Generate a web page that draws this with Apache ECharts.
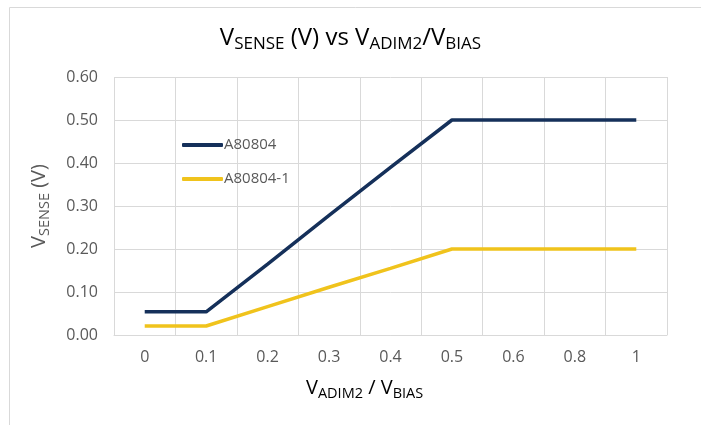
<!DOCTYPE html>
<html><head><meta charset="utf-8">
<script src="https://cdn.jsdelivr.net/npm/echarts@6/dist/echarts.min.js"></script>
<style>html,body{margin:0;padding:0;background:#fff}#c{width:701px;height:425px}</style>
</head><body><div id="c"></div>
<script>
var categories = ['0','0.1','0.2','0.3','0.4','0.5','0.6','0.8','1'];
var seriesA = [0.054, 0.054, 0.165, 0.278, 0.39, 0.5, 0.5, 0.5, 0.5];
var seriesB = [0.021, 0.021, 0.066, 0.111, 0.155, 0.2, 0.2, 0.2, 0.2];
var seriesNames = ['A80804', 'A80804-1'];
var yTicks = {min: 0, max: 0.6, interval: 0.1};

var FONT = '"Open Sans", "Liberation Sans", sans-serif';
var TC = '#595959';
var chart = echarts.init(document.getElementById('c'));
var rich = {
  v: {fontSize: 24, color: TC, fontFamily: FONT},
  s: {fontSize: 17, color: TC, fontFamily: FONT, padding: [13, 0, 0, 0]}
};
var rich2 = {
  v: {fontSize: 20, color: TC, fontFamily: FONT},
  s: {fontSize: 14.5, color: TC, fontFamily: FONT, padding: [11, 0, 0, 0]}
};
chart.setOption({
  animation: false,
  graphic: [
    {type: 'rect', left: 7, top: 5, shape: {width: 720, height: 440}, style: {fill: 'none', stroke: '#d9d9d9', lineWidth: 1}, z: -1},
    {type: 'text', left: 'center', top: 26, style: {text: '{v|V}{s|SENSE}{v| (V) vs V}{s|ADIM2}{v|/V}{s|BIAS}', rich: rich}},
    {type: 'text', left: 306, top: 378, style: {text: '{v|V}{s|ADIM2}{v| / V}{s|BIAS}', rich: rich2}}
  ],
  grid: {left: 114, right: 34, top: 77, bottom: 90},
  legend: {
    orient: 'vertical', left: 177, top: 131, itemWidth: 41, itemHeight: 4, itemGap: 16,
    icon: 'roundRect',
    textStyle: {color: TC, fontSize: 15, fontFamily: FONT, lineHeight: 18, padding: [0,0,0,-4]},
    data: seriesNames
  },
  xAxis: {
    type: 'category', data: categories, boundaryGap: true,
    axisLine: {show: true, lineStyle: {color: '#d9d9d9'}},
    axisTick: {show: false},
    splitLine: {show: true, lineStyle: {color: '#d9d9d9', width: 1}},
    axisLabel: {color: TC, fontSize: 16, fontFamily: FONT, margin: 14}
  },
  yAxis: {
    type: 'value', min: yTicks.min, max: yTicks.max, interval: yTicks.interval,
    name: '{v|V}{s|SENSE}{v| (V)}', nameLocation: 'middle', nameGap: 62,
    nameTextStyle: {rich: rich2},
    axisLine: {show: false}, axisTick: {show: false},
    splitLine: {lineStyle: {color: '#d9d9d9', width: 1}},
    axisLabel: {color: TC, fontSize: 16, fontFamily: FONT, margin: 16, formatter: function (v) { return v.toFixed(2); }}
  },
  series: [
    {name: seriesNames[0], type: 'line', data: seriesA, symbol: 'none', lineStyle: {color: '#15305A', width: 3.5}, itemStyle: {color: '#15305A'}},
    {name: seriesNames[1], type: 'line', data: seriesB, symbol: 'none', lineStyle: {color: '#F0C31C', width: 3.5}, itemStyle: {color: '#F0C31C'}}
  ]
});
</script></body></html>
